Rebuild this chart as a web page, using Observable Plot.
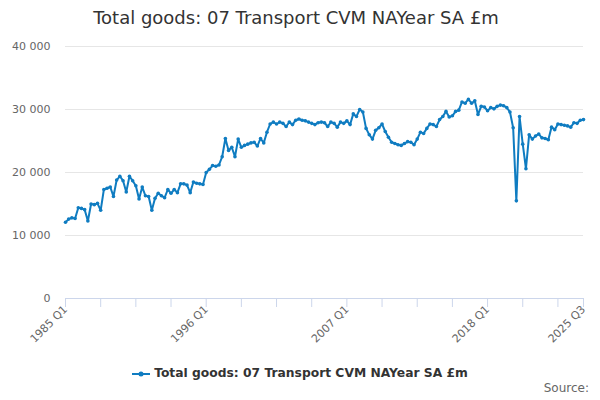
<!DOCTYPE html>
<html>
<head>
<meta charset="utf-8">
<script src="https://cdn.jsdelivr.net/npm/d3@7"></script>
<script src="https://cdn.jsdelivr.net/npm/@observablehq/plot@0.6"></script>
<style>
  html, body { margin: 0; padding: 0; background: #fff; }
  body { width: 600px; height: 400px; overflow: hidden; font-family: "DejaVu Sans", sans-serif; position: relative; }
  #title { position: absolute; left: 0; top: 7px; width: 592px; text-align: center; font-size: 18px; color: #333; }
  #chart { position: absolute; left: 0; top: 36px; }
  #legend { position: absolute; left: 0; top: 366px; width: 600px; text-align: center; font-size: 12.3px; font-weight: bold; color: #333; }
  #legend svg { vertical-align: middle; margin-right: 4px; }
  #source { position: absolute; right: 11px; top: 381px; font-size: 12px; color: #666; }
</style>
</head>
<body>
<div id="title">Total goods: 07 Transport CVM NAYear SA £m</div>
<div id="chart"></div>
<div id="legend"><svg width="18" height="10"><line x1="0" y1="5" x2="18" y2="5" stroke="#0f7cc1" stroke-width="2"/><circle cx="9" cy="5" r="2.5" fill="#0f7cc1"/></svg><span id="legendText"></span></div>
<div id="source">Source:</div>
<script>
const seriesName = "Total goods: 07 Transport CVM NAYear SA £m";
const startYear = 1985;
const values = [
  12100, 12600, 12800, 12700, 14400, 14300, 14100, 12300, 15000, 14900,
  15100, 14000, 17300, 17500, 17700, 16200, 18800, 19400, 18700, 16900,
  19400, 18700, 17900, 15800, 17700, 16300, 16200, 14000, 15900, 16700,
  16300, 16000, 17300, 16700, 17300, 16800, 18200, 18200, 18000, 16800,
  18500, 18300, 18200, 18100, 20000, 20500, 21100, 21000, 21200, 22500,
  25400, 23500, 24000, 22500, 25300, 24000, 24300, 24500, 24700, 24800,
  24200, 25400, 24700, 26400, 27700, 28000, 27700, 28000, 27800, 27300,
  28000, 27600, 28300, 28500, 28300, 28200, 28000, 27800, 27600, 27900,
  28000, 27900, 27300, 28000, 27800, 27200, 28000, 27800, 28200, 27600,
  29300, 28900, 30000, 29600, 27000, 26000, 25300, 26700, 27100, 27700,
  26500, 25600, 24800, 24600, 24400, 24300, 24600, 24900, 24800, 24400,
  25300, 26400, 26200, 27000, 27700, 27600, 27300, 28400, 28900, 29700,
  28800, 29000, 29700, 29900, 31200, 31000, 31600, 31000, 31400,
  29200, 30500, 30400, 29800, 30300, 30100, 30500, 30700, 30600, 30300, 29600, 27100,
  15500, 28900, 24500, 20600,
  26000, 25300, 25800, 26100, 25500, 25400, 25200, 27200, 26800, 27700, 27600, 27500, 27400,
  27200, 27900, 27800, 28300, 28400
];
const quarters = values.map((_, i) => `${startYear + Math.floor(i / 4)} Q${(i % 4) + 1}`);
const xTickLabels = ["1985 Q1", "1996 Q1", "2007 Q1", "2018 Q1", "2025 Q3"];
const yTicks = [0, 10000, 20000, 30000, 40000];

document.getElementById("legendText").textContent = seriesName;

const data = values.map((v, i) => ({i, q: quarters[i], v}));
const labelIdx = xTickLabels.map(l => quarters.indexOf(l));
const tickIdx = Array.from(new Set([...d3.range(0, quarters.length, 11), quarters.length - 1]));
const color = "#0f7cc1";
const fmt = d => d3.format(",")(d).replace(/,/g, " ");

const chart = Plot.plot({
  width: 600,
  height: 320,
  marginLeft: 65,
  marginRight: 17,
  marginTop: 10,
  marginBottom: 58,
  style: {fontFamily: "DejaVu Sans, sans-serif", fontSize: "11px", background: "white"},
  x: {domain: [0, quarters.length - 1]},
  y: {domain: [0, 40000]},
  marks: [
    Plot.gridY(yTicks, {stroke: "#e6e6e6", strokeOpacity: 1}),
    Plot.axisY(yTicks, {tickSize: 0, tickPadding: 15, tickFormat: fmt, fill: "#666", label: null}),
    Plot.ruleY([0], {stroke: "#ccd6eb"}),
    Plot.axisX(tickIdx, {tickSize: 9, stroke: "#ccd6eb", tickFormat: () => "", label: null}),
    Plot.axisX(labelIdx, {tickSize: 0, tickPadding: 9, tickRotate: -45, tickFormat: i => quarters[i], fill: "#666", label: null}),
    Plot.line(data, {x: "i", y: "v", stroke: color, strokeWidth: 2}),
    Plot.dot(data, {x: "i", y: "v", r: 1.8, fill: color})
  ]
});
document.getElementById("chart").appendChild(chart);
</script>
</body>
</html>
